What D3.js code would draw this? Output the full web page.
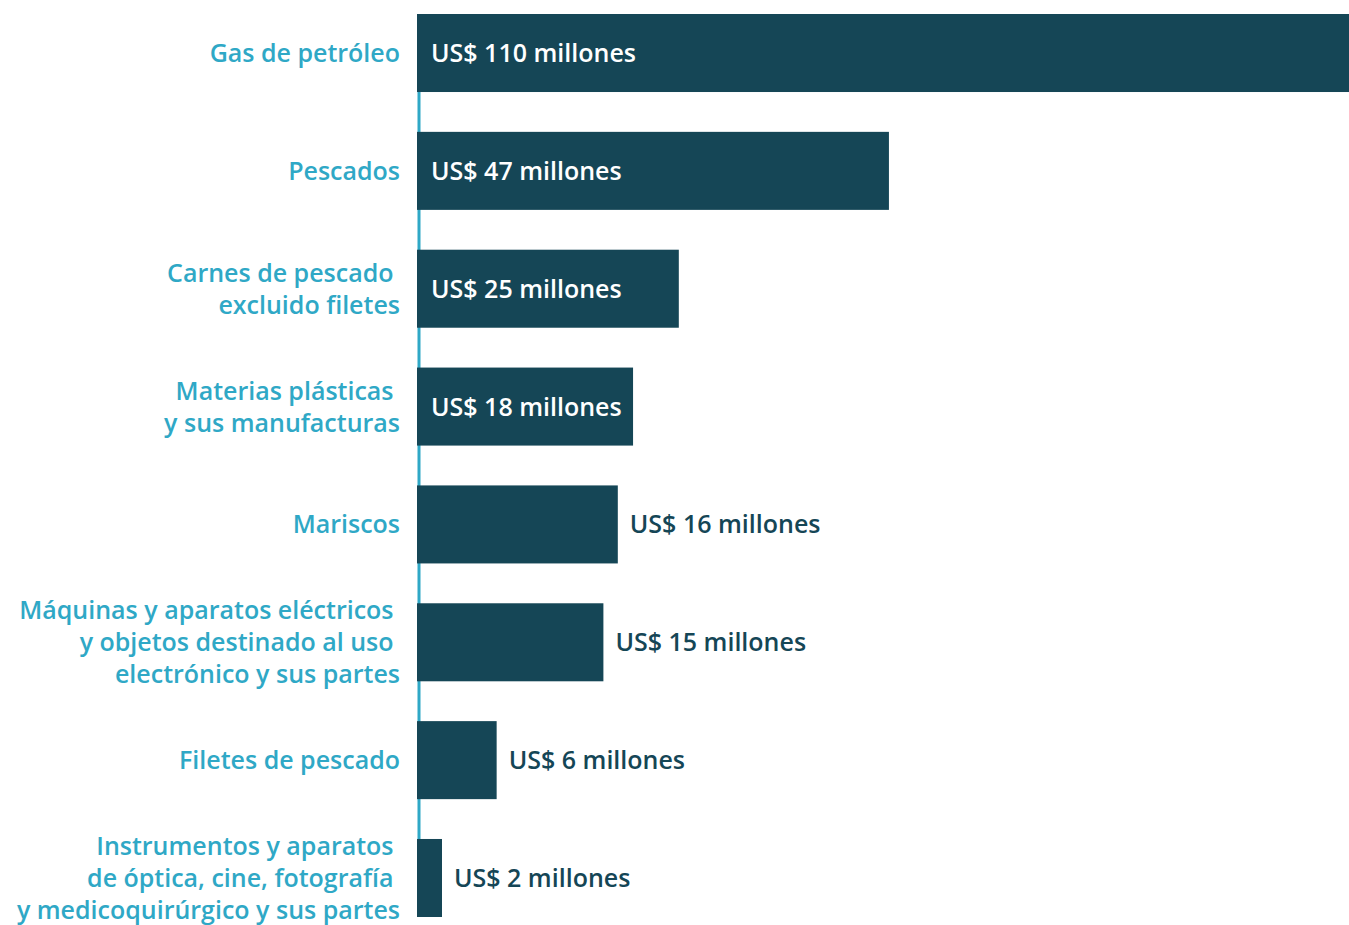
<!DOCTYPE html>
<html>
<head>
<meta charset="utf-8">
<script src="https://cdn.jsdelivr.net/npm/d3@7.9.0/dist/d3.min.js"></script>
<style>
  body { margin: 0; background: #fff; }
  svg { display: block; font-family: "Open Sans", "Noto Sans", sans-serif; }
  .cat { fill: #2fa8c6; font-size: 25px; font-weight: 600; white-space: pre; }
  .val { font-size: 25px; font-weight: 600; }
</style>
</head>
<body>
<svg id="chart" width="1349" height="925"></svg>
<script>
// categories, one entry per line of the label
const categories = [
    ['Gas de petróleo'],
    ['Pescados'],
    ['Carnes de pescado ', 'excluido filetes'],
    ['Materias plásticas ', 'y sus manufacturas'],
    ['Mariscos'],
    ['Máquinas y aparatos eléctricos ', 'y objetos destinado al uso ', 'electrónico y sus partes'],
    ['Filetes de pescado'],
    ['Instrumentos y aparatos ', 'de óptica, cine, fotografía ', 'y medicoquirúrgico y sus partes'],
];

// values as printed on the labels (US$ millones)
const values = [110, 47, 25, 18, 16, 15, 6, 2];

// bar lengths as drawn in the picture (same units)
const barLengths = [110, 55.7, 30.9, 25.5, 23.7, 22.0, 9.4, 2.95];

const width = 1349;
const height = 925;

const svg = d3.select('#chart');

const keys = categories.map((d, i) => i);
const data = keys.map(i => ({
    lines: categories[i],
    value: values[i],
    len: barLengths[i],
}));

const x = d3.scaleLinear()
    .domain([0, 110])
    .range([417, width]);

const y = d3.scaleBand()
    .domain(keys)
    .range([14, 917])
    .paddingInner(0.338)
    .paddingOuter(0);

// vertical axis line
svg.append('line')
    .attr('x1', 419).attr('x2', 419)
    .attr('y1', y.range()[0]).attr('y2', y.range()[1])
    .attr('stroke', '#2fa8c6')
    .attr('stroke-width', 3);

// bars
svg.append('g')
    .selectAll('rect')
    .data(data)
    .join('rect')
    .attr('x', x(0))
    .attr('y', (d, i) => y(i))
    .attr('width', d => x(d.len) - x(0))
    .attr('height', y.bandwidth())
    .attr('fill', '#154656');

// category labels
const lineH = 32;
const cats = svg.append('g')
    .selectAll('text')
    .data(data)
    .join('text')
    .attr('class', 'cat')
    .attr('text-anchor', 'end')
    .attr('x', 400)
    .attr('y', (d, i) => y(i) + y.bandwidth() / 2);

cats.selectAll('tspan')
    .data(d => d.lines.map((l, j) => ({ l, j, n: d.lines.length })))
    .join('tspan')
    .attr('x', 400)
    .attr('dy', d => d.j === 0 ? ((-(d.n - 1) / 2) * lineH + 9) : lineH)
    .text(d => d.l);

// value labels
const vals = svg.append('g')
    .selectAll('text')
    .data(data)
    .join('text')
    .attr('class', 'val')
    .attr('y', (d, i) => y(i) + y.bandwidth() / 2 + 9)
    .text(d => `US$ ${d.value} millones`);

vals.each(function (d) {
    const tw = this.getComputedTextLength();
    const bw = x(d.len) - x(0);
    const inside = tw + 24 < bw;
    d3.select(this)
        .attr('x', inside ? x(0) + 14 : x(d.len) + 12)
        .attr('fill', inside ? '#ffffff' : '#154656');
});
</script>
</body>
</html>
